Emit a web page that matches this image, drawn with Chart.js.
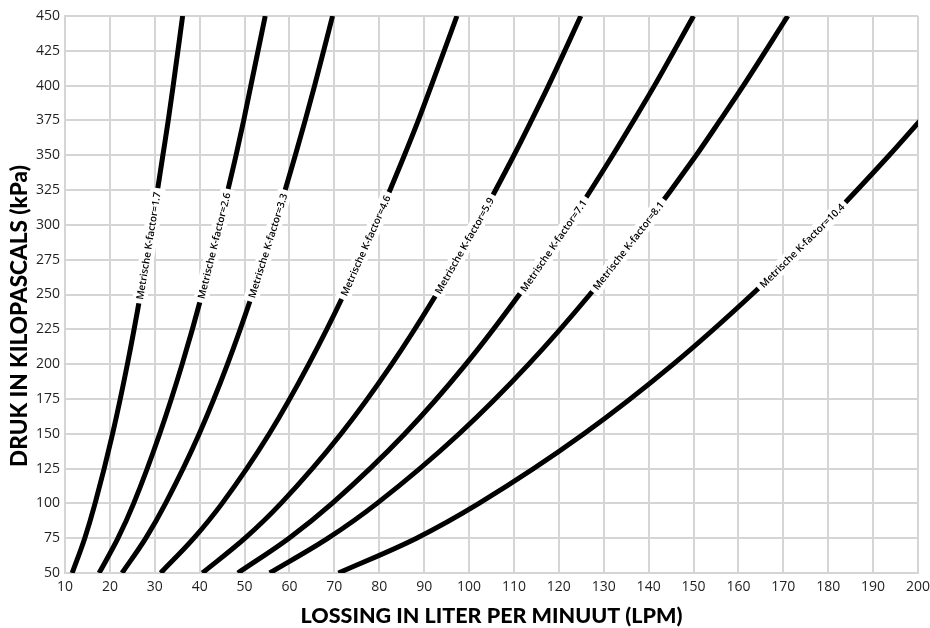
<!DOCTYPE html>
<html>
<head>
<meta charset="utf-8">
<script src="https://cdn.jsdelivr.net/npm/chart.js@4"></script>
<style>
  html, body { margin: 0; padding: 0; background: #fff; }
  #wrap { width: 930px; height: 628px; }
</style>
</head>
<body>
<div id="wrap"><canvas id="chart"></canvas></div>
<script>
const pressureLevels = [50, 75, 100, 150, 200, 250, 300, 350, 375, 400, 450];

const kFactors = ['1.7', '2.6', '3.3', '4.6', '5.9', '7.1', '8.1', '10.4'];

// flow (LPM) per curve at the pressures above
const flowK17  = [11.6, 14.4, 16.7, 20.6, 23.9, 26.8, 29.4, 31.8, 33.0, 34.1, 36.2];
const flowK26  = [17.6, 21.8, 25.3, 31.1, 36.1, 40.5, 44.4, 48.1, 49.8, 51.4, 54.6];
const flowK33  = [22.7, 28.0, 32.4, 39.9, 46.2, 51.7, 56.7, 61.3, 63.5, 65.6, 69.6];
const flowK46  = [31.3, 38.7, 45.0, 55.5, 64.3, 72.1, 79.1, 85.6, 88.7, 91.6, 97.3];
const flowK59  = [40.6, 50.1, 58.1, 71.5, 82.8, 92.7, 101.7, 110.0, 113.9, 117.7, 124.9];
const flowK71  = [48.5, 59.9, 69.5, 85.7, 99.3, 111.2, 122.1, 132.0, 136.7, 141.3, 150.0];
const flowK81  = [55.6, 68.6, 79.5, 97.8, 113.3, 126.9, 139.2, 150.6, 155.9, 161.1, 171.0];
const flowK104 = [70.9, 88.3, 102.2, 125.6, 145.5, 163.0, 179.0, 193.6, 200.5, null, null];

const flowSeries = [flowK17, flowK26, flowK33, flowK46, flowK59, flowK71, flowK81, flowK104];

const labelPressure = 285;

const gridColor = '#d5d5d7';
const textColor = '#231f20';

// linear lookup of the flow at a given pressure, only used to place the labels
function flowAt(flows, p) {
    for (let i = 0; i < pressureLevels.length - 1; i++) {
        const p0 = pressureLevels[i], p1 = pressureLevels[i + 1];
        if (p >= p0 && p <= p1 && flows[i] != null && flows[i + 1] != null) {
            return flows[i] + (flows[i + 1] - flows[i]) * (p - p0) / (p1 - p0);
        }
    }
    return null;
}

const curveLabels = {
    id: 'curveLabels',
    afterDatasetsDraw(chart) {
        const ctx = chart.ctx;
        const xs = chart.scales.x, ys = chart.scales.y;
        ctx.save();
        ctx.font = '600 10px "Open Sans"';
        ctx.textAlign = 'center';
        ctx.textBaseline = 'middle';
        flowSeries.forEach((flows, i) => {
            const q = flowAt(flows, labelPressure);
            const qa = flowAt(flows, labelPressure - 30);
            const qb = flowAt(flows, labelPressure + 30);
            const cx = xs.getPixelForValue(q);
            const cy = ys.getPixelForValue(labelPressure);
            const ang = Math.atan2(
                ys.getPixelForValue(labelPressure + 30) - ys.getPixelForValue(labelPressure - 30),
                xs.getPixelForValue(qb) - xs.getPixelForValue(qa));
            const text = 'Metrische K-factor=' + kFactors[i];
            const w = ctx.measureText(text).width + 8;
            ctx.save();
            ctx.translate(cx, cy);
            ctx.rotate(ang);
            ctx.fillStyle = '#fff';
            ctx.fillRect(-w / 2, -7.5, w, 15);
            ctx.fillStyle = '#000';
            ctx.fillText(text, 0, 0.5);
            ctx.restore();
        });
        ctx.restore();

        // y axis title, sits a bit below the middle of the plot
        ctx.save();
        ctx.translate(20, 316);
        ctx.rotate(-Math.PI / 2);
        ctx.font = '900 22.5px Lato';
        ctx.fillStyle = '#000';
        ctx.textAlign = 'center';
        ctx.textBaseline = 'middle';
        ctx.fillText('DRUK IN KILOPASCALS (kPa)', 0, 0);
        ctx.restore();
    }
};

const datasets = flowSeries.map((flows, i) => ({
    label: 'K=' + kFactors[i],
    data: pressureLevels.map((p, j) => ({ x: flows[j], y: p })).filter(d => d.x != null),
    borderColor: '#000',
    borderWidth: 5,
    pointRadius: 0,
    cubicInterpolationMode: 'monotone',
    fill: false
}));

new Chart(document.getElementById('chart'), {
    type: 'line',
    data: { datasets: datasets },
    options: {
        responsive: true,
        maintainAspectRatio: false,
        animation: false,
        layout: { padding: { top: 16, right: 12, left: 0, bottom: 0 } },
        plugins: { legend: { display: false }, tooltip: { enabled: false } },
        scales: {
            x: {
                type: 'linear',
                min: 10,
                max: 200,
                ticks: { stepSize: 10, color: textColor, padding: 6, font: { family: '"Open Sans"', size: 14 } },
                grid: { color: gridColor, lineWidth: 2, drawTicks: false },
                border: { color: gridColor, width: 2 },
                title: {
                    display: true,
                    text: 'LOSSING IN LITER PER MINUUT (LPM)',
                    color: '#000',
                    padding: { top: 0, bottom: -1 },
                    font: { family: 'Lato', size: 21.5, weight: '900' }
                },
                afterFit(scale) {
                    scale.height = 55;
                    scale.paddingLeft = 0;
                    scale.paddingRight = 0;
                }
            },
            y: {
                min: 50,
                max: 450,
                ticks: { stepSize: 25, color: textColor, padding: 5, font: { family: '"Open Sans"', size: 14 } },
                grid: { color: gridColor, lineWidth: 2, drawTicks: false },
                border: { color: gridColor, width: 2 },
                title: { display: false },
                afterFit(scale) {
                    scale.width = 65;
                    scale.paddingTop = 0;
                    scale.paddingBottom = 0;
                }
            }
        }
    },
    plugins: [curveLabels]
});
</script>
</body>
</html>
